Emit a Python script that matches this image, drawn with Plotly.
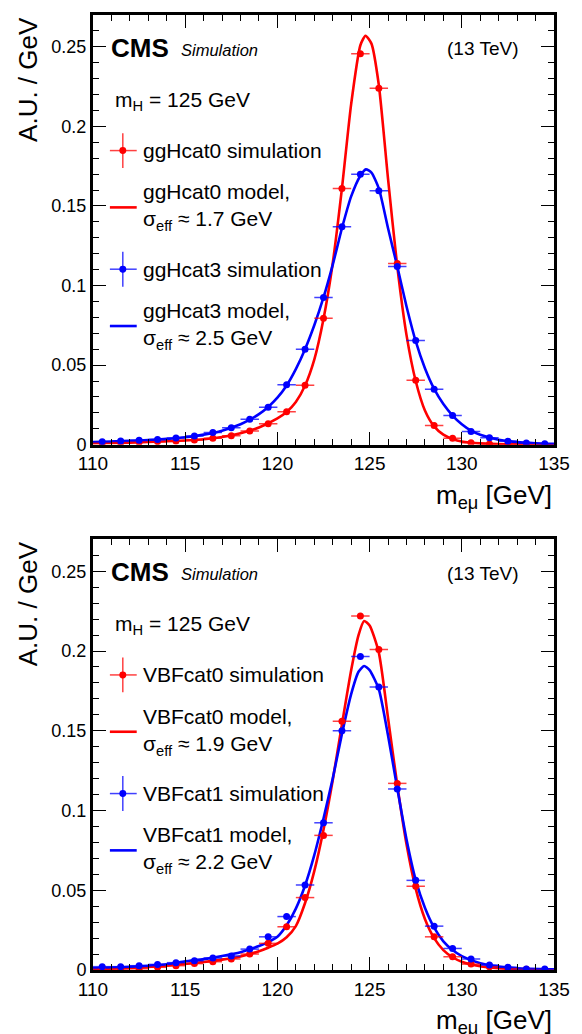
import plotly.graph_objects as go

FONT = "Liberation Sans, Arial, sans-serif"
RED = "#ff0000"
BLUE = "#0000ff"
RED_ERR = "rgba(255,0,0,0.75)"
BLUE_ERR = "rgba(0,0,255,0.75)"

# ---------------- data ----------------
bin_centers = [110.5, 111.5, 112.5, 113.5, 114.5, 115.5, 116.5, 117.5, 118.5, 119.5,
               120.5, 121.5, 122.5, 123.5, 124.5, 125.5, 126.5, 127.5, 128.5, 129.5,
               130.5, 131.5, 132.5, 133.5, 134.5]

# top panel
ggh0_sim = [0.0010, 0.0013, 0.0015, 0.0019, 0.0023, 0.0029, 0.0040, 0.0056, 0.0085, 0.0131,
            0.0206, 0.0374, 0.0794, 0.1610, 0.2456, 0.2240, 0.1138, 0.0405, 0.0121, 0.0040,
            0.0012, 0.0004, 0.0002, 0.0001, 0.0001]
ggh3_sim = [0.0019, 0.0023, 0.0028, 0.0033, 0.0042, 0.0054, 0.0077, 0.0106, 0.0160, 0.0235,
            0.0376, 0.0600, 0.0925, 0.1370, 0.1700, 0.1596, 0.1120, 0.0654, 0.0348, 0.0183,
            0.0083, 0.0044, 0.0021, 0.0011, 0.0006]

ggh0_model_x = [110, 112, 114, 116, 117, 118, 119, 120, 120.5, 121, 121.5, 122, 122.5, 123,
                123.5, 124, 124.5, 124.78, 125.1, 125.5, 126, 126.5, 127, 127.5, 128, 128.5,
                129, 129.5, 130, 131, 132, 133, 135]
ggh0_model_y = [0.0009, 0.0013, 0.0021, 0.0034, 0.0048, 0.0072, 0.0108, 0.0165, 0.0205, 0.0268,
                0.0372, 0.0535, 0.0790, 0.1140, 0.1610, 0.2140, 0.2510, 0.2570, 0.2520, 0.2260,
                0.1670, 0.1120, 0.0690, 0.0400, 0.0215, 0.0115, 0.0063, 0.0036, 0.0020, 0.0008,
                0.0004, 0.0002, 0.0001]

ggh3_model_x = [110, 111, 112, 113, 114, 115, 116, 117, 118, 118.5, 119, 119.5, 120, 120.5,
                121, 121.5, 122, 122.5, 123, 123.5, 124, 124.5, 124.8, 125.1, 125.5, 126,
                126.5, 127, 127.5, 128, 128.5, 129, 129.5, 130, 130.5, 131, 132, 133, 134, 135]
ggh3_model_y = [0.0017, 0.0020, 0.0024, 0.0029, 0.0036, 0.0046, 0.0063, 0.0088, 0.0128, 0.0157,
                0.0192, 0.0237, 0.0295, 0.0372, 0.0475, 0.0600, 0.0750, 0.0925, 0.1130, 0.1360,
                0.1560, 0.1690, 0.1730, 0.1710, 0.1610, 0.1360, 0.1120, 0.0870, 0.0650, 0.0480,
                0.0350, 0.0255, 0.0183, 0.0128, 0.0088, 0.0062, 0.0031, 0.0016, 0.0009, 0.0005]

# bottom panel
vbf0_sim = [0.0004, 0.0007, 0.0008, 0.0017, 0.0027, 0.0040, 0.0052, 0.0069, 0.0100, 0.0167,
            0.0271, 0.0454, 0.0844, 0.1560, 0.2219, 0.2010, 0.1170, 0.0525, 0.0208, 0.0083,
            0.0037, 0.0020, 0.0010, 0.0005, 0.0002]
vbf1_sim = [0.0021, 0.0021, 0.0027, 0.0035, 0.0046, 0.0058, 0.0075, 0.0088, 0.0131, 0.0208,
            0.0335, 0.0533, 0.0923, 0.1500, 0.1965, 0.1775, 0.1135, 0.0562, 0.0275, 0.0135,
            0.0069, 0.0031, 0.0017, 0.0007, 0.0006]

vbf0_model_x = [110, 112, 114, 116, 117, 118, 119, 119.5, 120, 120.5, 121, 121.5, 122, 122.5,
                123, 123.5, 124, 124.4, 124.7, 125.0, 125.5, 126, 126.5, 127, 127.5, 128,
                128.5, 129, 129.5, 130, 131, 132, 133, 135]
vbf0_model_y = [0.0004, 0.0013, 0.0027, 0.0050, 0.0065, 0.0085, 0.0118, 0.0140, 0.0165, 0.0205,
                0.0275, 0.0420, 0.0620, 0.0880, 0.1190, 0.1540, 0.1880, 0.2100, 0.2188, 0.2160,
                0.1990, 0.1580, 0.1160, 0.0790, 0.0510, 0.0320, 0.0200, 0.0125, 0.0080, 0.0052,
                0.0024, 0.0012, 0.0006, 0.0002]

vbf1_model_x = [110, 112, 114, 115, 116, 117, 118, 119, 119.5, 120, 120.5, 121, 121.5, 122,
                122.5, 123, 123.5, 124, 124.4, 124.7, 125.0, 125.5, 126, 126.5, 127, 127.5,
                128, 128.5, 129, 129.5, 130, 131, 132, 133, 135]
vbf1_model_y = [0.0010, 0.0020, 0.0036, 0.0055, 0.0068, 0.0088, 0.0112, 0.0150, 0.0175, 0.0208,
                0.0280, 0.0385, 0.0530, 0.0720, 0.0950, 0.1200, 0.1480, 0.1730, 0.1870, 0.1906,
                0.1880, 0.1760, 0.1470, 0.1140, 0.0820, 0.0565, 0.0390, 0.0265, 0.0180, 0.0125,
                0.0087, 0.0042, 0.0021, 0.0011, 0.0004]

top_labels = ["ggHcat0 simulation", "ggHcat0 model,<br>σ<sub>eff</sub> ≈ 1.7 GeV",
              "ggHcat3 simulation", "ggHcat3 model,<br>σ<sub>eff</sub> ≈ 2.5 GeV"]
bottom_labels = ["VBFcat0 simulation", "VBFcat0 model,<br>σ<sub>eff</sub> ≈ 1.9 GeV",
                 "VBFcat1 simulation", "VBFcat1 model,<br>σ<sub>eff</sub> ≈ 2.2 GeV"]

x_title = "m<sub>eμ</sub> [GeV]"
y_title = "A.U. / GeV"
x_range = [110, 135]
y_range = [0, 0.27]

# ---------------- figure ----------------
W, H = 582, 1034
ML, MR, MT, MB = 93, 25, 12, 64
PW = W - ML - MR           # 464
PH_TOP = 431
PH_BOT = 432
TOTAL_H = H - MT - MB      # 958

fig = go.Figure()


def add_panel(n, sims, models):
    xa = "x" if n == 1 else "x2"
    ya = "y" if n == 1 else "y2"
    for (mx, my, col) in models:
        fig.add_trace(go.Scatter(x=mx, y=my, mode="lines", xaxis=xa, yaxis=ya,
                                 line=dict(color=col, width=2.6, shape="spline", smoothing=0.6),
                                 showlegend=False, hoverinfo="skip"))
    for (sy, col, ecol) in sims:
        fig.add_trace(go.Scatter(x=bin_centers, y=sy, mode="markers", xaxis=xa, yaxis=ya,
                                 marker=dict(color=col, size=7),
                                 error_x=dict(type="constant", value=0.5, width=0,
                                              thickness=1.5, color=ecol),
                                 error_y=dict(type="constant", value=0.0008, width=0,
                                              thickness=1.5, color=ecol),
                                 showlegend=False))


add_panel(1, [(ggh0_sim, RED, RED_ERR), (ggh3_sim, BLUE, BLUE_ERR)],
          [(ggh0_model_x, ggh0_model_y, RED), (ggh3_model_x, ggh3_model_y, BLUE)])
add_panel(2, [(vbf0_sim, RED, RED_ERR), (vbf1_sim, BLUE, BLUE_ERR)],
          [(vbf0_model_x, vbf0_model_y, RED), (vbf1_model_x, vbf1_model_y, BLUE)])

# empty traces so that the mirrored tick axes (top / right) are drawn
fig.add_trace(go.Scatter(x=[], y=[], xaxis="x3", yaxis="y3", showlegend=False))
fig.add_trace(go.Scatter(x=[], y=[], xaxis="x4", yaxis="y4", showlegend=False))

common_axis = dict(showline=True, linecolor="black", linewidth=3, mirror=True,
                   ticks="inside", ticklen=13, tickwidth=1, tickcolor="black",
                   showgrid=False, zeroline=False, fixedrange=True)
xminor = dict(ticks="inside", ticklen=6, dtick=1, tickcolor="black", tickwidth=1,
              showgrid=False)
yminor = dict(ticks="inside", ticklen=6, dtick=0.01, tickcolor="black", tickwidth=1,
              showgrid=False)
xax = dict(common_axis, range=x_range, tick0=110, dtick=5,
           tickfont=dict(family=FONT, size=19, color="black"), minor=xminor)
yax = dict(common_axis, range=y_range, tick0=0, dtick=0.05,
           tickfont=dict(family=FONT, size=18, color="black"), minor=yminor)

mirror_axis = dict(showline=False, ticks="inside", ticklen=13, tickwidth=1, tickcolor="black",
                   showgrid=False, zeroline=False, fixedrange=True, showticklabels=False)
xax_m = dict(mirror_axis, range=x_range, tick0=110, dtick=5, minor=xminor, side="top")
yax_m = dict(mirror_axis, range=y_range, tick0=0, dtick=0.05, minor=yminor, side="right")

top_dom = [1 - PH_TOP / TOTAL_H, 1]
bot_dom = [0, PH_BOT / TOTAL_H]

fig.update_layout(
    width=W, height=H,
    margin=dict(l=ML, r=MR, t=MT, b=MB),
    paper_bgcolor="white", plot_bgcolor="white",
    showlegend=False,
    font=dict(family=FONT, color="black"),
    xaxis=dict(xax, domain=[0, 1], anchor="y"),
    yaxis=dict(yax, domain=top_dom, anchor="x"),
    xaxis2=dict(xax, domain=[0, 1], anchor="y2"),
    yaxis2=dict(yax, domain=bot_dom, anchor="x2"),
    xaxis3=dict(xax_m, domain=[0, 1], anchor="y3", overlaying="x"),
    yaxis3=dict(yax_m, domain=top_dom, anchor="x3", overlaying="y"),
    xaxis4=dict(xax_m, domain=[0, 1], anchor="y4", overlaying="x2"),
    yaxis4=dict(yax_m, domain=bot_dom, anchor="x4", overlaying="y2"),
)

annotations = []
shapes = []


def place(n, px, py, ph):
    """convert pixel offset from panel top-left into domain coordinates"""
    return px / PW, 1 - py / ph


def add_text(n, px, py, text, size, xanchor="left", yanchor="middle", ph=PH_TOP, **kw):
    xr = "x domain" if n == 1 else "x2 domain"
    yr = "y domain" if n == 1 else "y2 domain"
    x, y = place(n, px, py, ph)
    annotations.append(dict(x=x, y=y, xref=xr, yref=yr, text=text, showarrow=False,
                            xanchor=xanchor, yanchor=yanchor,
                            font=dict(family=FONT, size=size, color="black"), **kw))


def add_shape(n, **kw):
    xr = "x domain" if n == 1 else "x2 domain"
    yr = "y domain" if n == 1 else "y2 domain"
    shapes.append(dict(xref=xr, yref=yr, **kw))


for n, labels, ph in [(1, top_labels, PH_TOP), (2, bottom_labels, PH_BOT)]:
    add_text(n, 16, 33, "<b>CMS</b>", 26, ph=ph)
    add_text(n, 87, 35, "<i>Simulation</i>", 16.5, ph=ph)
    add_text(n, 430, 34, "(13 TeV)", 19, xanchor="right", ph=ph)
    add_text(n, 20, 86, "m<sub>H</sub> = 125 GeV", 21, ph=ph)

    rows_y = [136, 193, 255, 312]
    cols = [(RED, RED_ERR), (RED, RED_ERR), (BLUE, BLUE_ERR), (BLUE, BLUE_ERR)]
    for i, (lab, ry, (c, ec)) in enumerate(zip(labels, rows_y, cols)):
        add_text(n, 48, ry, lab, 21, ph=ph, align="left")
        if i % 2 == 0:
            x0, y0 = place(n, 30, ry - 17.5, ph)
            x1, y1 = place(n, 30, ry + 17.5, ph)
            add_shape(n, type="line", x0=x0, x1=x1, y0=y0, y1=y1, line=dict(color=ec, width=1.5))
            x0, y0 = place(n, 17, ry, ph)
            x1, y1 = place(n, 44, ry, ph)
            add_shape(n, type="line", x0=x0, x1=x1, y0=y0, y1=y1, line=dict(color=ec, width=1.5))
            x0, y0 = place(n, 26.5, ry - 3.5, ph)
            x1, y1 = place(n, 33.5, ry + 3.5, ph)
            add_shape(n, type="circle", x0=x0, x1=x1, y0=y0, y1=y1, fillcolor=c,
                      line=dict(color=c, width=0))
        else:
            x0, y0 = place(n, 17, ry, ph)
            x1, y1 = place(n, 44, ry, ph)
            add_shape(n, type="line", x0=x0, x1=x1, y0=y0, y1=y1, line=dict(color=c, width=2.6))

    # axis titles
    add_text(n, 464, ph + 33, x_title, 26, xanchor="right", yanchor="top", ph=ph)
    add_text(n, 27 - 93, 0, y_title, 26, xanchor="center", yanchor="top", ph=ph, textangle=-90)

fig.update_layout(annotations=annotations, shapes=shapes)

fig.write_html("out.html", config={"displayModeBar": False},
               post_script="document.body.style.margin='0px';document.body.style.padding='0px';")
